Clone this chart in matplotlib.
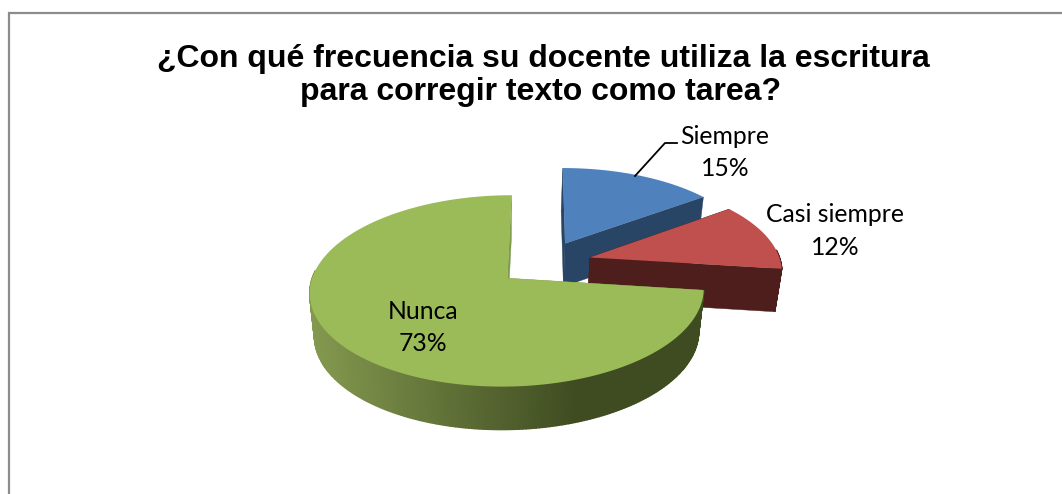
import numpy as np
import matplotlib
matplotlib.use('Agg')
import matplotlib.pyplot as plt

categorias = ['Siempre', 'Casi siempre', 'Nunca']
porcentajes = [15, 12, 73]

colores_tapa = ['#4F81BD', '#C0504D', '#9BBB59']
colores_lado = ['#294566', '#4D1E1C', '#7F9A48']

# geometria del pastel (pixeles de la imagen)
cx, cy = 544, 263
R, Rv = 191, 90
k = 0.13
explode = 0.25
alto = 43
fuga_x, encoge = 500, 0.975  # la base se ve un poco mas angosta


def proyectar(X, Y):
    f = 1 + k * Y
    return cx + R * X / f, cy - Rv * Y / f


def punto(ang, r, a_medio):
    # angulo en grados, horario desde las 12
    X = r * np.sin(np.radians(ang)) + explode * np.sin(np.radians(a_medio))
    Y = r * np.cos(np.radians(ang)) + explode * np.cos(np.radians(a_medio))
    return proyectar(X, Y)


def base_x(x):
    return fuga_x + (x - fuga_x) * encoge


def mezcla(c1, c2, t):
    a = np.array(matplotlib.colors.to_rgb(c1))
    b = np.array(matplotlib.colors.to_rgb(c2))
    return tuple(a + (b - a) * t)


fig = plt.figure(figsize=(10.62, 4.94), dpi=100)
ax = fig.add_axes([0, 0, 1, 1])
ax.set_xlim(0, 1062)
ax.set_ylim(494, 0)
ax.axis('off')

# marco: solo izquierda y arriba
ax.plot([8.5, 8.5, 1062], [494, 13.5, 13.5], color='#8C8C8C', lw=1.6, solid_joinstyle='miter')

acum = np.cumsum([0] + porcentajes) * 3.6

for i in range(len(porcentajes)):
    a0, a1 = acum[i], acum[i + 1]
    am = (a0 + a1) / 2
    angs = np.linspace(a0, a1, 300)
    xs, ys = punto(angs, 1.0, am)
    x0, y0 = punto(0.0, 0.0, am)

    # caras de corte
    for a_corte in (a0, a1):
        xc, yc = punto(a_corte, 1.0, am)
        ax.fill([x0, xc, base_x(xc), base_x(x0)], [y0, yc, yc + alto, y0 + alto],
                color=colores_lado[i], lw=0.3, zorder=2 + i)

    # pared exterior, tiras con degradado
    for j in range(len(angs) - 1):
        a = (angs[j] + angs[j + 1]) / 2 % 360
        if not 85 < a < 275:
            continue
        if i == 2:
            t = (xs[j] - 310) / (577 - 310)
            color = mezcla('#84994F', '#3F4C21', min(max(t, 0), 1))
        else:
            color = colores_lado[i]
        ax.fill([xs[j], xs[j + 1], base_x(xs[j + 1]), base_x(xs[j])],
                [ys[j], ys[j + 1], ys[j + 1] + alto, ys[j] + alto],
                color=color, lw=1.0, zorder=2 + i)

    # tapa
    ax.fill(np.r_[x0, xs], np.r_[y0, ys], color=colores_tapa[i], lw=0, zorder=2 + i)

# guia de Siempre
ax.plot([677, 665, 635], [143, 143, 176], color='black', lw=1.3, zorder=8)

fuente = 'Lato'
tam = 17.8
ax.text(725, 136, categorias[0], ha='center', va='center', fontsize=tam, family=fuente)
ax.text(725, 168, f'{porcentajes[0]}%', ha='center', va='center', fontsize=tam, family=fuente)
ax.text(835, 214, categorias[1], ha='center', va='center', fontsize=tam, family=fuente)
ax.text(835, 247, f'{porcentajes[1]}%', ha='center', va='center', fontsize=tam, family=fuente)
ax.text(423, 311, categorias[2], ha='center', va='center', fontsize=tam, family=fuente, zorder=9)
ax.text(423, 343, f'{porcentajes[2]}%', ha='center', va='center', fontsize=tam, family=fuente, zorder=9)

ax.text(543, 59, '¿Con qué frecuencia su docente utiliza la escritura', ha='center', va='center',
        fontsize=23, fontweight='bold', family='Liberation Sans')
ax.text(541, 92, 'para corregir texto como tarea?', ha='center', va='center',
        fontsize=23, fontweight='bold', family='Liberation Sans')

fig.savefig('out.png', dpi=100)
